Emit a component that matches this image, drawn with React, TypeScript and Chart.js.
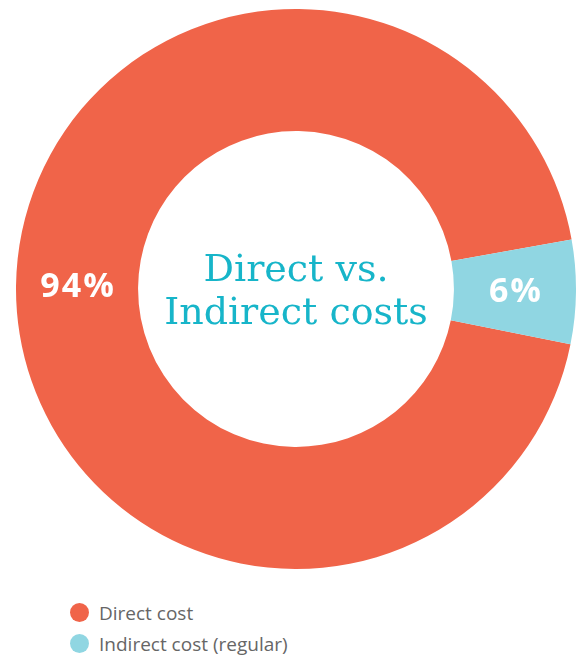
import React, { useEffect, useRef } from "react";
import { Chart, registerables } from "chart.js";

Chart.register(...registerables);

const categories = ["Direct cost", "Indirect cost (regular)"];
const shares = [94, 6];
const sliceLabels = ["94%", "6%"];
const centerLines = ["Direct vs.", "Indirect costs"];
const colors = ["#f06449", "#90d6e2"];

export default function App() {
  const ref = useRef<HTMLCanvasElement | null>(null);

  useEffect(() => {
    document.body.style.margin = "0";
    const labelPlugin = {
      id: "labels",
      afterDatasetsDraw(chart: any) {
        const ctx = chart.ctx;
        const meta = chart.getDatasetMeta(0);
        ctx.save();
        ctx.fillStyle = "#ffffff";
        ctx.font = "bold 34px 'Open Sans'";
        (ctx as any).letterSpacing = "2px";
        ctx.textAlign = "center";
        ctx.textBaseline = "middle";
        meta.data.forEach((arc: any, i: number) => {
          const p = arc.tooltipPosition();
          ctx.fillText(sliceLabels[i], p.x + 1, p.y + 1);
        });
        (ctx as any).letterSpacing = "0px";
        const a = chart.chartArea;
        const cx = (a.left + a.right) / 2;
        const cy = (a.top + a.bottom) / 2;
        ctx.fillStyle = "#17b5c9";
        ctx.font = "38px 'DejaVu Serif'";
        ctx.textBaseline = "alphabetic";
        ctx.fillText(centerLines[0], cx, cy - 8);
        ctx.fillText(centerLines[1], cx, cy + 35);
        ctx.restore();
      },
    };
    const chart = new Chart(ref.current!, {
      type: "doughnut",
      data: {
        labels: categories,
        datasets: [
          {
            data: shares,
            backgroundColor: colors,
            borderWidth: 0,
            hoverOffset: 0,
          },
        ],
      },
      options: {
        animation: false,
        responsive: false,
        maintainAspectRatio: false,
        cutout: "56.4%",
        rotation: 101.4,
        layout: { padding: { left: 16, right: 0, top: 9, bottom: 11 } },
        plugins: {
          legend: { display: false },
          tooltip: { enabled: false },
        },
      },
      plugins: [labelPlugin],
    });
    return () => chart.destroy();
  }, []);

  return (
    <div style={{ position: "relative", width: 576, height: 657 }}>
      <canvas ref={ref} width={576} height={580} style={{ display: "block" }} />
      <div style={{ position: "absolute", left: 70, top: 597, fontFamily: "'Open Sans', sans-serif", fontSize: 19, color: "#666666" }}>
        {categories.map((c, i) => (
          <div key={c} style={{ display: "flex", alignItems: "center", height: 31 }}>
            <span style={{ width: 19, height: 19, borderRadius: "50%", background: colors[i], display: "inline-block", marginRight: 10 }} />
            <span>{c}</span>
          </div>
        ))}
      </div>
    </div>
  );
}
